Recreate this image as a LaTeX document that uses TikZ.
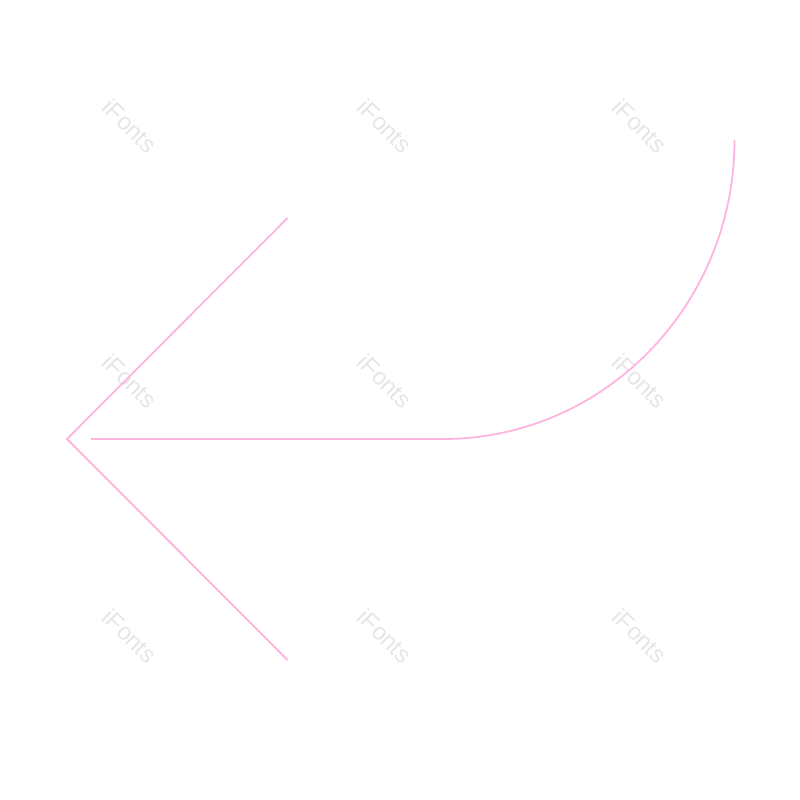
\documentclass[tikz,border=0pt]{standalone}
\usepackage{fontspec}
\setmainfont{Liberation Sans}
\definecolor{arrowpink}{HTML}{FFB3DE}
\definecolor{markgray}{HTML}{E6E6E6}
\tikzset{
  arrowline/.style={draw=arrowpink, line width=0.018cm, line join=miter},
  watermark/.style={text=markgray, font=\fontsize{6.8pt}{8pt}\selectfont, rotate=-45, inner sep=0pt}
}
\begin{document}
\begin{tikzpicture}[x=0.01cm, y=-0.01cm]
\useasboundingbox (0,0) rectangle (800,800);
\foreach \row/\ypos in {a/126, b/381, c/636}
  \foreach \col/\xpos in {1/130, 2/385, 3/640}
    \node[watermark] (mark\row\col) at (\xpos,\ypos) {iFonts};
\coordinate (headtop) at (287.5,218);
\coordinate (tip) at (67,439);
\coordinate (headbottom) at (287.5,660);
\coordinate (tailend) at (91,439);
\coordinate (bendstart) at (443,439);
\draw[arrowline] (headtop) -- (tip) -- (headbottom);
\draw[arrowline] (tailend) -- (bendstart)
  arc[start angle=90, end angle=0, x radius=291.5, y radius=299];
\end{tikzpicture}
\end{document}
